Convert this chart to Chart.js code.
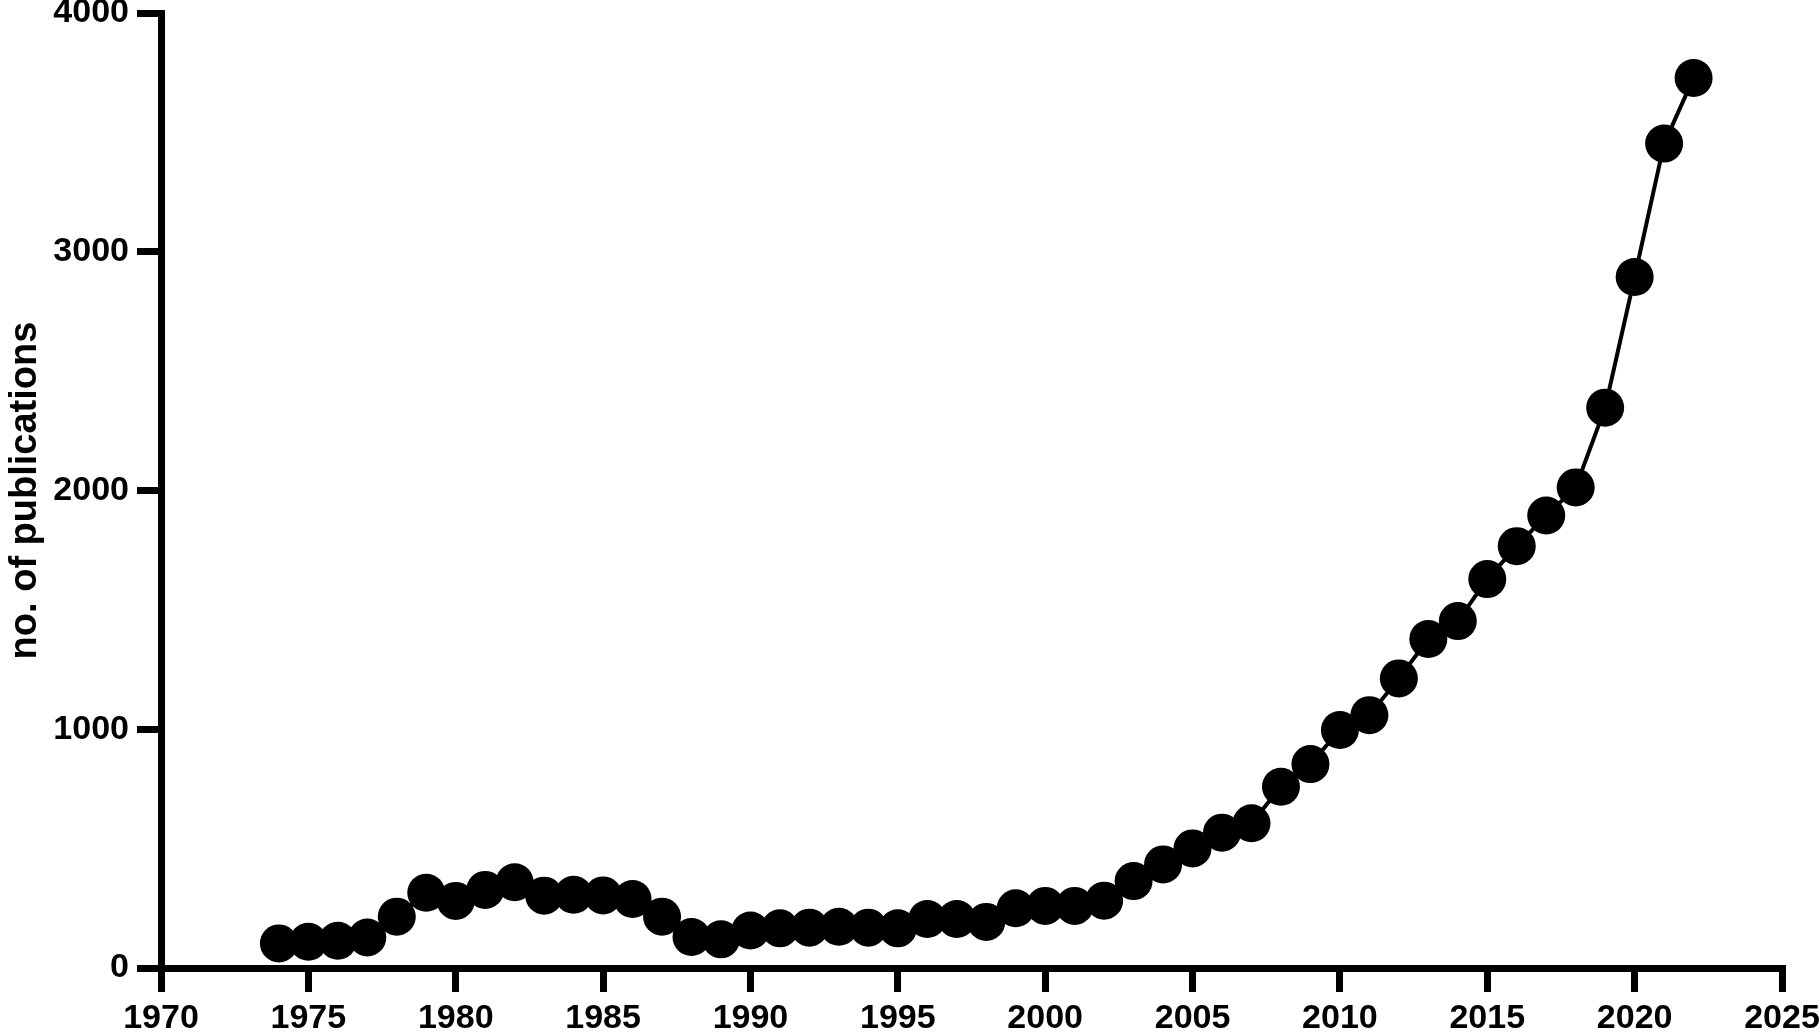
<!DOCTYPE html>
<html>
<head>
<meta charset="utf-8">
<script src="https://cdn.jsdelivr.net/npm/chart.js@4.4.1/dist/chart.umd.min.js"></script>
<style>
  html, body { margin: 0; padding: 0; background: #fff; }
  #wrap { width: 1820px; height: 1032px; position: relative; }
</style>
</head>
<body>
<div id="wrap"><canvas id="chart"></canvas></div>
<script>
// publications per year
const years = [
  1974, 1975, 1976, 1977, 1978, 1979, 1980, 1981, 1982, 1983,
  1984, 1985, 1986, 1987, 1988, 1989, 1990, 1991, 1992, 1993,
  1994, 1995, 1996, 1997, 1998, 1999, 2000, 2001, 2002, 2003,
  2004, 2005, 2006, 2007, 2008, 2009, 2010, 2011, 2012, 2013,
  2014, 2015, 2016, 2017, 2018, 2019, 2020, 2021, 2022,
];
const publications = [
  103, 110, 114, 128, 215, 315, 281, 327, 359, 303,
  307, 304, 289, 215, 130, 120, 157, 166, 169, 173,
  169, 166, 205, 205, 193, 250, 260, 260, 282, 364,
  434, 501, 567, 606, 759, 854, 997, 1059, 1213, 1378,
  1453, 1629, 1767, 1895, 2013, 2347, 2894, 3453, 3728,
];
const xTicks = [1970, 1975, 1980, 1985, 1990, 1995, 2000, 2005, 2010, 2015, 2020, 2025];
const yTicks = [0, 1000, 2000, 3000, 4000];
const yTitle = "no. of publications";

const FONT = "'Liberation Sans', Arial, sans-serif";

const points = years.map((year, i) => ({ x: year, y: publications[i] }));

const axisLine = {
  grid: {
    drawOnChartArea: false,
    drawTicks: true,
    tickLength: 24,
    lineWidth: 7,
    color: "#000",
  },
  border: { display: true, width: 7, color: "#000" },
};

new Chart(document.getElementById("chart"), {
  type: "line",
  data: {
    datasets: [
      {
        data: points,
        borderColor: "#000",
        backgroundColor: "#000",
        borderWidth: 4,
        pointRadius: 19,
        pointBorderWidth: 0,
        pointBackgroundColor: "#000",
        pointHoverRadius: 19,
        tension: 0,
        clip: false,
      },
    ],
  },
  options: {
    responsive: true,
    maintainAspectRatio: false,
    animation: false,
    // autoPadding would reserve room for the big points (19px) at the top
    layout: {
      autoPadding: false,
      padding: { top: 13, right: 38, left: 0, bottom: 0 },
    },
    plugins: {
      legend: { display: false },
      tooltip: { enabled: false },
    },
    scales: {
      x: {
        type: "linear",
        min: xTicks[0],
        max: xTicks[xTicks.length - 1],
        afterBuildTicks: (scale) => {
          scale.ticks = xTicks.map((v) => ({ value: v }));
        },
        ticks: {
          color: "#000",
          padding: 6,
          maxRotation: 0,
          autoSkip: false,
          font: { family: FONT, size: 34, weight: "bold" },
          callback: (v) => String(v),
        },
        ...axisLine,
        afterFit: (scale) => {
          scale.height = 64;
          scale.paddingLeft = 0;
          scale.paddingRight = 0;
        },
      },
      y: {
        min: yTicks[0],
        max: yTicks[yTicks.length - 1],
        afterBuildTicks: (scale) => {
          scale.ticks = yTicks.map((v) => ({ value: v }));
        },
        ticks: {
          color: "#000",
          padding: 8,
          // tiny line height so the top label does not push the plot down
          font: { family: FONT, size: 34, weight: "bold", lineHeight: 0.28 },
          callback: (v) => String(v),
        },
        title: {
          display: true,
          text: yTitle,
          color: "#000",
          padding: { top: 3, bottom: 0 },
          font: { family: FONT, size: 38, weight: "bold" },
        },
        ...axisLine,
        afterFit: (scale) => {
          scale.width = 161;
          scale.paddingTop = 0;
          scale.paddingBottom = 0;
        },
      },
    },
  },
});
</script>
</body>
</html>
